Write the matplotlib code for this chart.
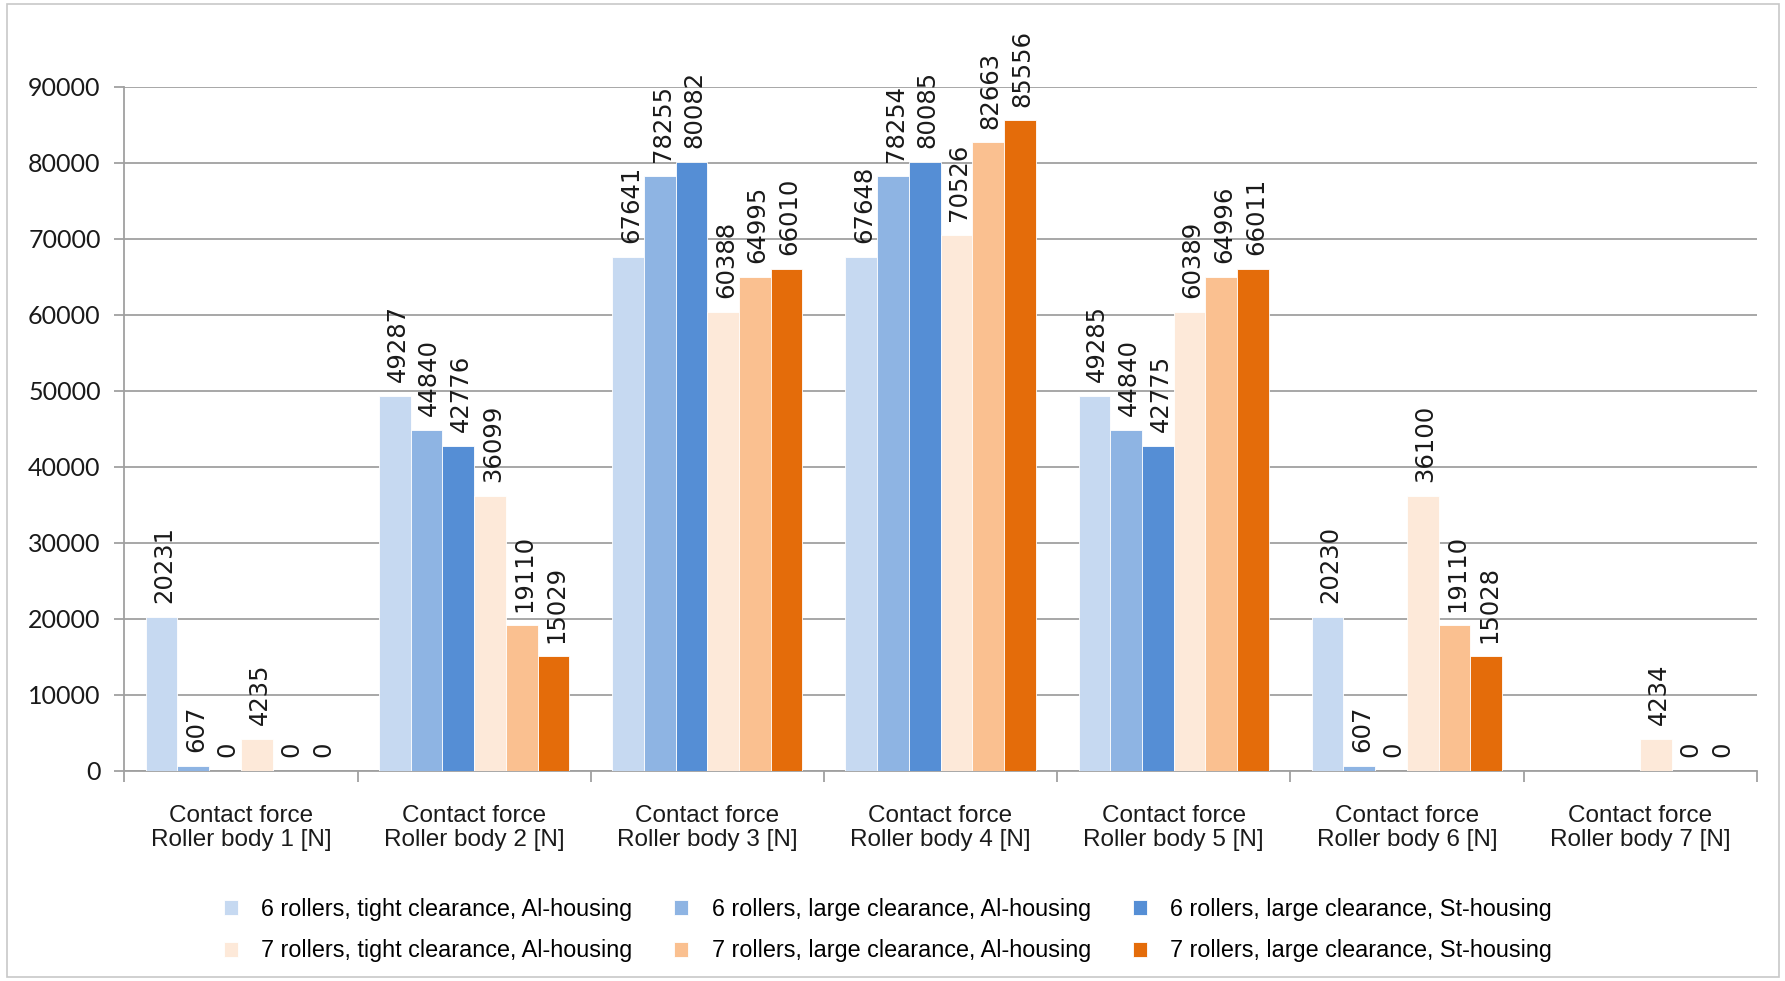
import numpy as np
import matplotlib
matplotlib.use("Agg")
import matplotlib.pyplot as plt
from matplotlib.patches import Rectangle

categories = ["Contact force\nRoller body 1 [N]", "Contact force\nRoller body 2 [N]",
              "Contact force\nRoller body 3 [N]", "Contact force\nRoller body 4 [N]",
              "Contact force\nRoller body 5 [N]", "Contact force\nRoller body 6 [N]",
              "Contact force\nRoller body 7 [N]"]
series_names = ["6 rollers, tight clearance, Al-housing",
                "6 rollers, large clearance, Al-housing",
                "6 rollers, large clearance, St-housing",
                "7 rollers, tight clearance, Al-housing",
                "7 rollers, large clearance, Al-housing",
                "7 rollers, large clearance, St-housing"]
s6_tight_al = [20231, 49287, 67641, 67648, 49285, 20230, np.nan]
s6_large_al = [607, 44840, 78255, 78254, 44840, 607, np.nan]
s6_large_st = [0, 42776, 80082, 80085, 42775, 0, np.nan]
s7_tight_al = [4235, 36099, 60388, 70526, 60389, 36100, 4234]
s7_large_al = [0, 19110, 64995, 82663, 64996, 19110, 0]
s7_large_st = [0, 15029, 66010, 85556, 66011, 15028, 0]
series = [s6_tight_al, s6_large_al, s6_large_st, s7_tight_al, s7_large_al, s7_large_st]
colors = ["#C6D9F1", "#8EB4E3", "#558ED5", "#FDE9D9", "#FAC090", "#E46C0A"]
yticks = [0, 10000, 20000, 30000, 40000, 50000, 60000, 70000, 80000, 90000]

W, H = 1785, 981
fig = plt.figure(figsize=(W / 100, H / 100), dpi=100)
fig.patch.set_facecolor("white")
fig.add_artist(Rectangle((7 / W, 4 / H), (1779 - 7) / W, (977 - 4) / H,
                         transform=fig.transFigure, fill=False,
                         edgecolor="#C8C8C8", linewidth=1.2))

ax = fig.add_axes([124.3 / W, 1 - 770.7 / H, (1756.7 - 124.3) / W, (770.7 - 86.7) / H])
x = np.arange(len(categories))
bw = 0.136
grid_c = "#A0A0A0"
for i, (vals, col, name) in enumerate(zip(series, colors, series_names)):
    pos = x + (i - 2.5) * bw
    v = np.array(vals, dtype=float)
    ax.bar(pos, np.nan_to_num(v), width=bw, color=col, label=name,
           edgecolor="white", linewidth=0.6, zorder=3)
    for p, val in zip(pos, v):
        if np.isnan(val):
            continue
        ax.annotate(f"{int(val)}", xy=(p, val), xytext=(2, 10), textcoords="offset points",
                    rotation=90, ha="center", va="bottom", fontsize=17.5,
                    family="DejaVu Sans", color="#1a1a1a", annotation_clip=False, zorder=4)

ax.set_ylim(0, 90000)
ax.set_xlim(-0.5, len(categories) - 0.5)
ax.set_yticks(yticks)
ax.set_yticklabels([str(t) for t in yticks], family="Lato", fontsize=18, color="#1a1a1a")
ax.yaxis.grid(True, color=grid_c, linewidth=1.3, zorder=0)
ax.set_axisbelow(True)
for s in ["top", "right"]:
    ax.spines[s].set_visible(False)
for s in ["left", "bottom"]:
    ax.spines[s].set_color(grid_c)
    ax.spines[s].set_linewidth(1.3)
ax.tick_params(axis="y", length=7, width=1.3, color=grid_c, pad=10)

ax.set_xticks(np.arange(-0.5, len(categories), 1.0))
ax.set_xticklabels([])
ax.tick_params(axis="x", which="major", length=8, width=1.3, color=grid_c)
ax.set_xticks(x, minor=True)
ax.set_xticklabels(categories, minor=True, family="Liberation Sans", fontsize=17.5,
                   color="#1a1a1a", linespacing=1.12)
ax.tick_params(axis="x", which="minor", length=0, pad=25)

handles, labels = ax.get_legend_handles_labels()
order = [0, 3, 1, 4, 2, 5]
leg = fig.legend([handles[k] for k in order], [labels[k] for k in order], ncol=3,
                 loc="center", bbox_to_anchor=(888 / W, 1 - 930 / H),
                 frameon=False, prop={"family": "Liberation Sans", "size": 16.8},
                 handlelength=0.6, handleheight=0.6, handletextpad=1.0,
                 columnspacing=1.8, labelspacing=0.8)

fig.savefig("out.png", dpi=100, facecolor="white")
